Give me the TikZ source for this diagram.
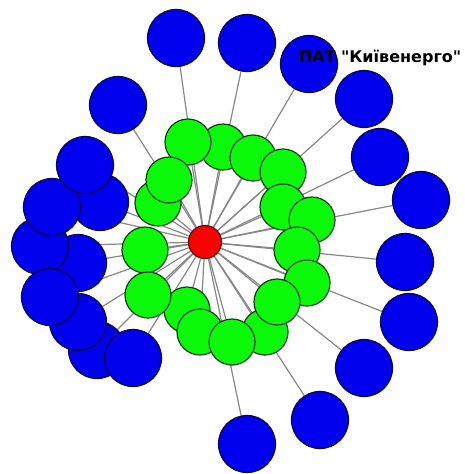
\documentclass[tikz,border=0pt]{standalone}
\usepackage{fontspec}
\newfontfamily\labelfont{DejaVu Sans}
\usepackage{xcolor}

\definecolor{hubred}{RGB}{250,0,0}
\definecolor{hubline}{RGB}{90,10,10}
\definecolor{ringgreen}{RGB}{10,250,10}
\definecolor{ringline}{RGB}{20,60,20}
\definecolor{outerblue}{RGB}{0,0,238}
\definecolor{outerline}{RGB}{10,10,60}
\definecolor{linkgray}{RGB}{135,135,135}

\pgfdeclarelayer{edges}
\pgfsetlayers{edges,main}

\tikzset{
  hub/.style={circle,draw=hubline,fill=hubred,line width=1.2pt,inner sep=0pt,minimum size=33pt},
  ring/.style={circle,draw=ringline,fill=ringgreen,line width=1.2pt,inner sep=0pt,minimum size=46pt},
  outer/.style={circle,draw=outerline,fill=outerblue,line width=1.2pt,inner sep=0pt,minimum size=57pt},
  link/.style={draw=linkgray,line width=1.2pt}
}

\begin{document}
\begin{tikzpicture}[x=1pt,y=-1pt]
  \useasboundingbox (0,0) rectangle (464,474);

  \node[hub] (r) at (205,242) {};

  \foreach \n/\x/\y in {2/223/147,1/188/142,3/253/158,4/283/172,16/158/203,17/169/180,
                        5/283/207,6/312/220,7/297/250,8/307/283,10/265/332,9/277/302,
                        13/187/310,12/200/332,11/232/342,15/145/250,14/148/295}{
    \node[ring] (g\n) at (\x,\y) {};
  }

  \foreach \n/\x/\y in {16/78/263,19/100/202,13/97/350,14/78/322,17/40/246,15/50/297,
                        18/52/207,20/85/165,12/133/358,21/118/105,1/176/38,2/247/43,
                        3/309/64,4/364/99,5/380/157,6/421/200,7/405/262,8/409/322,
                        9/364/368,10/320/420,11/247/444}{
    \node[outer] (b\n) at (\x,\y) {};
  }

  \begin{pgfonlayer}{edges}
    \foreach \n in {1,...,17}{
      \draw[link] (r) -- (g\n);
    }
    \foreach \n in {1,...,21}{
      \draw[link] (r) -- (b\n);
    }
  \end{pgfonlayer}

  \node[font=\labelfont\bfseries\fontsize{16}{19}\selectfont,inner sep=0pt] (name) at (380,57.5) {ПАТ "Київенерго"};
\end{tikzpicture}
\end{document}
